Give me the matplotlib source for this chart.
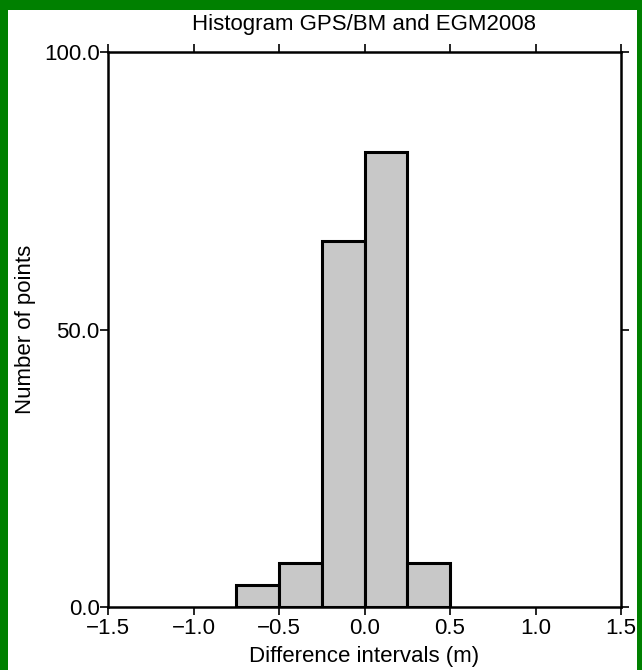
import matplotlib
matplotlib.use('Agg')
import matplotlib.pyplot as plt
from matplotlib.patches import Rectangle
import numpy as np

plt.rcParams['font.family'] = ['Liberation Sans', 'DejaVu Sans']

# histogram bins (m) and counts
bin_edges = [-0.75, -0.5, -0.25, 0.0, 0.25, 0.5]
counts = [4, 8, 66, 82, 8]
x_ticks = [-1.5, -1.0, -0.5, 0.0, 0.5, 1.0, 1.5]
y_ticks = [0, 50, 100]

W, H = 642, 670
fig = plt.figure(figsize=(W / 100, H / 100), dpi=100)
fig.patch.set_facecolor('white')
ax = fig.add_axes([108 / W, 63 / H, 513 / W, 555 / H])

lefts = np.array(bin_edges[:-1])
widths = np.diff(bin_edges)
ax.bar(lefts, counts, width=widths, align='edge', color='#c8c8c8',
       edgecolor='black', linewidth=2.2, zorder=3)

ax.set_xlim(-1.5, 1.5)
ax.set_ylim(0, 100)
ax.set_xticks(x_ticks)
ax.set_xticklabels([('%.1f' % v).replace('-', '\u2212') for v in x_ticks])
ax.set_yticks(y_ticks)
ax.set_yticklabels(['%.1f' % v for v in y_ticks])
ax.tick_params(direction='out', length=6, width=1.2, labelsize=16, pad=2,
               top=True, right=True, labeltop=False, labelright=False)
ax.tick_params(axis='y', pad=0)
for s in ax.spines.values():
    s.set_linewidth(1.8)

ax.set_title('Histogram GPS/BM and EGM2008', fontsize=16, pad=16)
ax.set_xlabel('Difference intervals (m)', fontsize=16, labelpad=5)
ax.set_ylabel('Number of points', fontsize=16, labelpad=6)

# green border
g = '#008000'
for x0, y0, w, h in [(0, 0, 8, H), (0, H - 10, W, 10), (637, 0, W - 637, H)]:
    fig.patches.append(Rectangle((x0 / W, y0 / H), w / W, h / H,
                                 transform=fig.transFigure, facecolor=g,
                                 edgecolor='none', zorder=10))

fig.savefig('out.png', dpi=100)
